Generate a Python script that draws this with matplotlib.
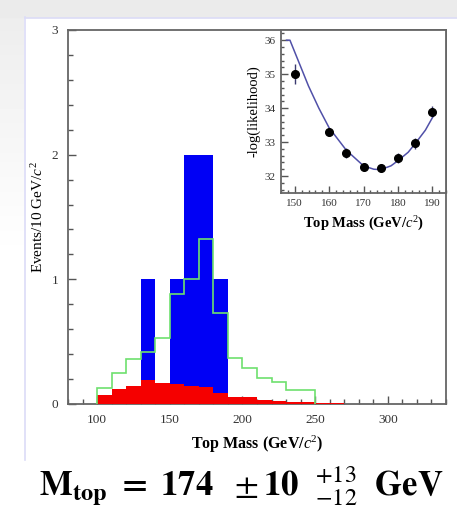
import matplotlib
matplotlib.use('Agg')
import matplotlib.pyplot as plt
import matplotlib.ticker as ticker
from matplotlib.patches import Rectangle
from matplotlib.lines import Line2D
import numpy as np

plt.rcParams['font.family'] = ['Liberation Serif', 'DejaVu Serif']
plt.rcParams['mathtext.fontset'] = 'custom'
plt.rcParams['mathtext.rm'] = 'Liberation Serif'
plt.rcParams['mathtext.it'] = 'Liberation Serif:italic'
plt.rcParams['mathtext.bf'] = 'Liberation Serif:bold'

# main histogram, 10 GeV bins
data_edges = [130, 140, 150, 160, 170, 180, 190]
data_counts = [1, 0, 1, 2, 2, 1]

bkg_edges = list(range(100, 280, 10))
bkg_values = [0.072, 0.117, 0.144, 0.19, 0.165, 0.16, 0.146, 0.133, 0.085,
              0.054, 0.058, 0.03, 0.025, 0.02, 0.02, 0.012, 0.005]

exp_edges = list(range(100, 260, 10))
exp_values = [0.125, 0.25, 0.36, 0.42, 0.53, 0.88, 1.0, 1.32, 0.73,
              0.37, 0.29, 0.21, 0.18, 0.11, 0.11]

# inset: likelihood scan
scan_mass = [150, 160, 165, 170, 175, 180, 185, 190]
scan_nll = [35.0, 33.3, 32.67, 32.27, 32.24, 32.52, 32.96, 33.9]
scan_err = [0.3, 0.12, 0.15, 0.1, 0.12, 0.15, 0.15, 0.15]
fit_mass = [147.6, 148.6, 151, 154, 157, 160, 165, 170, 173, 175, 178, 180, 183, 185, 188, 190.5]
fit_nll = [36.0, 36.0, 35.4, 34.65, 34.0, 33.42, 32.76, 32.3, 32.2, 32.19, 32.3,
           32.45, 32.7, 32.95, 33.35, 33.8]

fig = plt.figure(figsize=(4.57, 5.08), dpi=100)
W, H = 457, 508

# slide background
fig.patches.append(Rectangle((0, 1 - 17 / H), 1, 17 / H, transform=fig.transFigure,
                             color='#ebebeb', zorder=0))
grad = fig.add_axes([0, 1 - 260 / H, 24 / W, 243 / H])
grad.imshow(np.linspace(0.93, 1.0, 50).reshape(-1, 1), cmap='gray', vmin=0, vmax=1,
            aspect='auto')
grad.axis('off')
fig.add_artist(Line2D([24.5 / W, 24.5 / W], [1 - 17 / H, 1 - 460 / H],
                      color='#dcdcf7', lw=1.2, transform=fig.transFigure))
fig.add_artist(Line2D([24.5 / W, 1], [1 - 17.5 / H, 1 - 17.5 / H],
                      color='#dcdcf7', lw=1.2, transform=fig.transFigure))

ax = fig.add_axes([68 / W, 1 - 404 / H, 378 / W, 374 / H])
ax.stairs(data_counts, data_edges, fill=True, color='#0000f5', zorder=2)
ax.stairs(bkg_values, bkg_edges, fill=True, color='#f50000', zorder=3)
ax.stairs(exp_values, exp_edges, color='#6ee06e', lw=1.2, zorder=4)
ax.set_xlim(80, 340)
ax.set_ylim(0, 3)
ax.xaxis.set_minor_locator(ticker.MultipleLocator(10))
ax.set_xticks([100, 150, 200, 250, 300])
ax.yaxis.set_major_locator(ticker.MultipleLocator(1))
ax.yaxis.set_minor_locator(ticker.MultipleLocator(0.2))
ax.tick_params(which='both', direction='in', color='#555555', width=1,
               labelsize=9.5, labelcolor='#333333')
ax.tick_params(which='major', length=6, pad=7)
ax.tick_params(which='minor', length=3.5)
for s in ax.spines.values():
    s.set_color('#666666')
    s.set_linewidth(1.3)
ax.set_xlabel('Top Mass (GeV/$\\it{c}^2$)', fontsize=11.5, fontweight='bold', labelpad=6)
ax.set_ylabel('Events/10 GeV/$\\it{c}^2$', fontsize=11, labelpad=4)

ins = fig.add_axes([281 / W, 1 - 193 / H, 165 / W, 163 / H])
ins.plot(fit_mass, fit_nll, color='#5050a8', lw=1.1, zorder=2)
ins.errorbar(scan_mass, scan_nll, yerr=scan_err, fmt='o', color='black', ms=5.5,
             elinewidth=1, ecolor='#3a3a70', capsize=0, zorder=3)
ins.set_xlim(146, 194)
ins.set_ylim(31.5, 36.3)
ins.xaxis.set_major_locator(ticker.MultipleLocator(10))
ins.xaxis.set_minor_locator(ticker.MultipleLocator(2))
ins.yaxis.set_major_locator(ticker.MultipleLocator(1))
ins.yaxis.set_minor_locator(ticker.MultipleLocator(0.2))
ins.tick_params(which='both', direction='in', color='#555555', width=1,
                labelsize=8, labelcolor='#333333')
ins.tick_params(which='major', length=5, pad=4)
ins.tick_params(which='minor', length=2.5)
for s in ins.spines.values():
    s.set_color('#666666')
    s.set_linewidth(1.3)
ins.set_xlabel('Top Mass (GeV/$\\it{c}^2$)', fontsize=10.5, fontweight='bold', labelpad=5)
ins.set_ylabel('-log(likelihood)', fontsize=10.5, labelpad=3)

fig.text(0.528, 1 - 496 / H,
         r'$\mathbf{M}_{\mathbf{top}}\ \mathbf{=}\ \mathbf{174}\ \ \pm\mathbf{10}\ \ '
         r'{}^{+13}_{-12}\ \ \mathbf{GeV}$',
         fontsize=25, ha='center', va='baseline', math_fontfamily='stix')

plt.savefig('out.png', dpi=100)
